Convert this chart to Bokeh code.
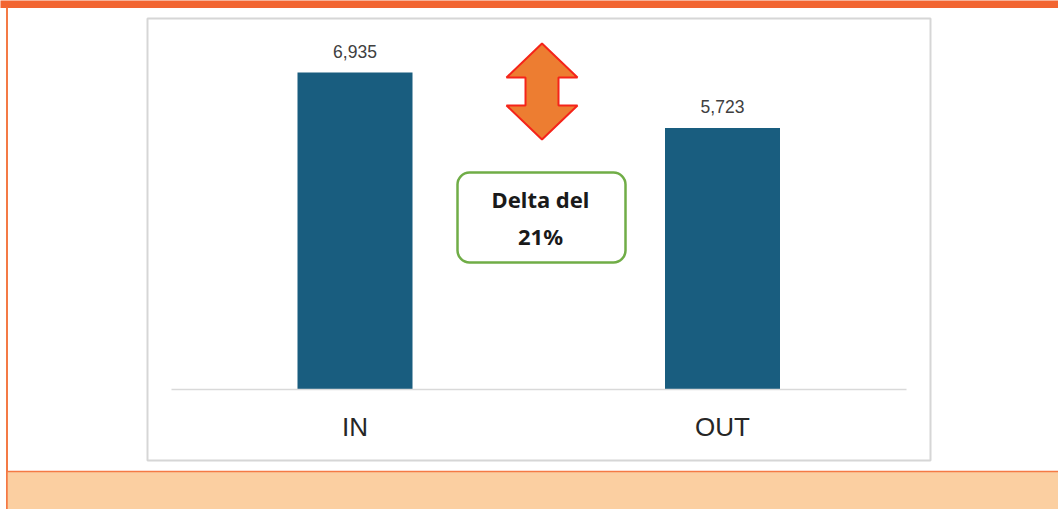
from bokeh.plotting import figure
from bokeh.models import FixedTicker, BoxAnnotation, Range1d
from bokeh.core.properties import value
from bokeh.embed import file_html
from bokeh.resources import INLINE

# ---- data ----
categories = ["IN", "OUT"]
values = [6935, 5723]
value_labels = ["{:,}".format(v) for v in values]
delta_text = ["Delta del", "21%"]

# ---- geometry (pixels inside the figure) ----
W, H = 1058, 509
x_px_first, x_px_step = 354.5, 367.5      # centre of first bar, spacing
y_px_base, px_per_unit = 389.0, 317.0 / 6935.0

xs = list(range(len(categories)))


def dx(px):
    return (px - x_px_first) / x_px_step


def dy(py):
    return (y_px_base - py) / px_per_unit


p = figure(width=W, height=H, output_backend="svg", toolbar_location=None,
           x_range=Range1d(dx(0), dx(W)), y_range=Range1d(dy(H), dy(0)),
           y_axis_location=None, min_border=0, tools="")
p.outline_line_color = None
p.grid.visible = False
p.background_fill_color = "white"
p.border_fill_color = "white"

# top orange band
p.add_layout(BoxAnnotation(bottom=dy(7.5), top=dy(-5), left=dx(-5), right=dx(W + 5),
                           fill_color="#F26531", fill_alpha=1, line_alpha=0,
                           level="underlay"))
# left orange rule
p.add_layout(BoxAnnotation(bottom=dy(H + 5), top=dy(7), left=dx(5.5), right=dx(7.5),
                           fill_color="#F47A45", fill_alpha=1, line_alpha=0,
                           level="underlay"))
# peach footer band
p.add_layout(BoxAnnotation(bottom=dy(H + 5), top=dy(471), left=dx(6.5), right=dx(W + 5),
                           fill_color="#FBCFA1", fill_alpha=1, line_color="#F47A45",
                           line_alpha=1, line_width=1.5, level="underlay"))
# chart box border
p.add_layout(BoxAnnotation(left=dx(147), right=dx(930), top=dy(18), bottom=dy(460),
                           fill_alpha=0, line_color="#D6D6D6", line_alpha=1,
                           line_width=2, level="underlay"))

# bars
p.vbar(x=xs, top=values, width=115 / x_px_step, bottom=0,
       fill_color="#195D7F", line_color=None)
p.text(x=xs, y=values, text=value_labels, text_align="center",
       text_baseline="alphabetic", y_offset=-21, text_color="#404040",
       text_font=value("Liberation Sans"), text_font_size="17.5px")

# double arrow
ax = [541.5, 577, 558, 558, 577, 541.5, 506, 525, 525, 506]
ay = [43, 77, 77, 105, 105, 139, 105, 105, 77, 77]
p.patch(x=[dx(v) for v in ax], y=[dy(v) for v in ay], fill_color="#ED7D31",
        line_color="#F5241A", line_width=2)

# delta box
p.add_layout(BoxAnnotation(left=dx(457), right=dx(625), top=dy(172), bottom=dy(262),
                           fill_alpha=0, line_color="#70AD47", line_alpha=1,
                           line_width=2.5, border_radius=12))
p.text(x=[dx(540), dx(540)], y=[dy(198), dy(235)], text=delta_text,
       text_align="center", text_baseline="middle", text_color="#1A1A1A",
       text_font=value("Noto Sans"), text_font_style="bold", text_font_size="22px")

# axis
ax0 = p.xaxis[0]
ax0.ticker = FixedTicker(ticks=xs)
ax0.major_label_overrides = {i: c for i, c in zip(xs, categories)}
ax0.fixed_location = 0
ax0.bounds = (-0.5, len(categories) - 0.5)
ax0.axis_line_color = "#D9D9D9"
ax0.axis_line_width = 1.5
ax0.major_tick_line_color = None
ax0.minor_tick_line_color = None
ax0.major_label_standoff = 16
ax0.major_label_text_font = "Liberation Sans"
ax0.major_label_text_font_size = "26px"
ax0.major_label_text_color = "#262626"

open("out.html", "w").write(file_html(p, INLINE))
